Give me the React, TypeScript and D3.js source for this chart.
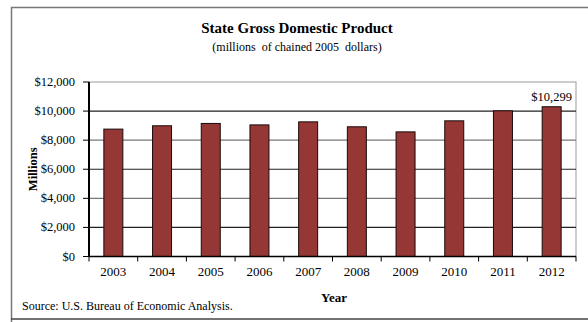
import React from "react";
import * as d3 from "d3";

const years = ["2003", "2004", "2005", "2006", "2007", "2008", "2009", "2010", "2011", "2012"];
const gdp = [8760, 8990, 9150, 9050, 9260, 8920, 8570, 9330, 10020, 10299];
const yTicks = [0, 2000, 4000, 6000, 8000, 10000, 12000];

const W = 588, H = 322;
const M = { left: 89, right: 576, top: 82, bottom: 256.5 };
const FONT = "'Liberation Serif', 'Times New Roman', serif";

export default function App() {
  const x = d3.scaleBand().domain(years).range([M.left, M.right]).paddingInner(0.61).paddingOuter(0.305);
  const xb = d3.scaleBand().domain(years).range([M.left, M.right]);
  const y = d3.scaleLinear().domain([0, 12000]).range([M.bottom, M.top]);
  const fmt = (v: number) => "$" + d3.format(",")(v);
  return (
    <svg width={W} height={H} style={{ position: "absolute", left: 0, top: 0 }} fontFamily={FONT}>
      <rect x={0} y={0} width={W} height={H} fill="#fff" />
      <path d={`M11.5,${H + 5} V7.5 H${W + 5}`} fill="none" stroke="#777" strokeWidth={1.5} />
      <line x1={11} x2={W} y1={319} y2={319} stroke="#444" strokeWidth={1.5} />
      <text x={297} y={33} textAnchor="middle" fontSize={15} fontWeight="bold">State Gross Domestic Product</text>
      <text x={297} y={51} textAnchor="middle" fontSize={12} style={{ whiteSpace: "pre" }}>{"(millions  of chained 2005  dollars)"}</text>
      <rect x={M.left} y={M.top} width={M.right - M.left} height={M.bottom - M.top} fill="none" stroke="#999" strokeWidth={1} />
      {yTicks.filter(t => t > 0 && t < 12000).map((t, i) => (
        <line key={t} x1={M.left} x2={M.right} y1={y(t)} y2={y(t)} stroke={i % 2 === 0 ? "#222" : "#777"} strokeWidth={1.2} />
      ))}
      {years.map((yr, i) => (
        <rect key={yr} x={x(yr)} y={y(gdp[i])} width={x.bandwidth()} height={M.bottom - y(gdp[i])}
          fill="#953735" stroke="#1a0a0a" strokeWidth={1} />
      ))}
      <text x={(x("2012") as number) + x.bandwidth() / 2} y={y(10299) - 6} textAnchor="middle" fontSize={12.5}>{fmt(10299)}</text>
      <line x1={M.left} x2={M.left} y1={M.top} y2={M.bottom} stroke="#000" strokeWidth={2} />
      <line x1={M.left} x2={M.right} y1={M.bottom} y2={M.bottom} stroke="#000" strokeWidth={1.5} />
      {yTicks.map(t => (
        <g key={t}>
          <line x1={M.left - 6} x2={M.left} y1={y(t)} y2={y(t)} stroke="#000" strokeWidth={1} />
          <text x={M.left - 14} y={y(t) + 4} textAnchor="end" fontSize={12.5}>{fmt(t)}</text>
        </g>
      ))}
      {years.map(yr => (
        <line key={yr} x1={xb(yr)! + xb.bandwidth()} x2={xb(yr)! + xb.bandwidth()} y1={M.bottom} y2={M.bottom + 5} stroke="#000" strokeWidth={1} />
      ))}
      <line x1={M.left} x2={M.left} y1={M.bottom} y2={M.bottom + 5} stroke="#000" strokeWidth={1} />
      {years.map(yr => (
        <text key={yr} x={xb(yr)! + xb.bandwidth() / 2} y={276} textAnchor="middle" fontSize={13}>{yr}</text>
      ))}
      <text x={334} y={302} textAnchor="middle" fontSize={13} fontWeight="bold">Year</text>
      <text transform={`translate(37,${(M.top + M.bottom) / 2}) rotate(-90)`} textAnchor="middle" fontSize={12.5} fontWeight="bold">Millions</text>
      <text x={22} y={310} fontSize={12}>Source: U.S. Bureau of Economic Analysis.</text>
    </svg>
  );
}
